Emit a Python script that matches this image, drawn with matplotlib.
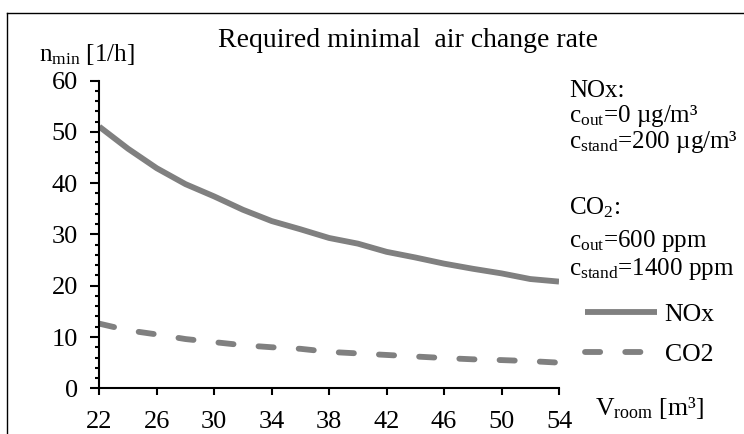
import matplotlib
matplotlib.use('Agg')
import matplotlib.pyplot as plt
from matplotlib.lines import Line2D
from matplotlib.ticker import MultipleLocator
import numpy as np

plt.rcParams['font.family'] = ['Liberation Serif', 'DejaVu Serif']
plt.rcParams['mathtext.fontset'] = 'custom'
plt.rcParams['mathtext.rm'] = 'Liberation Serif'
plt.rcParams['mathtext.it'] = 'Liberation Serif:italic'

# room volume [m3] and required air change rates [1/h]
V_room = [22, 24, 26, 28, 30, 32, 34, 36, 38, 40, 42, 44, 46, 48, 50, 52, 54]
n_NOx = [51.0, 46.7, 42.9, 39.8, 37.4, 34.8, 32.6, 31.0, 29.3, 28.2, 26.6,
         25.5, 24.3, 23.3, 22.4, 21.3, 20.8]
n_CO2 = [12.6, 11.3, 10.5, 9.6, 9.0, 8.4, 8.0, 7.7, 7.1, 6.8, 6.5,
         6.2, 5.9, 5.65, 5.5, 5.3, 5.0]

x_ticks = [22, 26, 30, 34, 38, 42, 46, 50, 54]
y_ticks = [0, 10, 20, 30, 40, 50, 60]

W, H = 744, 434
fig = plt.figure(figsize=(W/100, H/100), dpi=100)
ax = fig.add_axes([99.3/W, 1-388.3/H, (559-99.3)/W, (388.3-80.5)/H])

grey = '#808080'
ax.plot(V_room, n_NOx, color=grey, lw=4.2, solid_capstyle='butt', label='NOx')
ax.plot(V_room, n_CO2, color=grey, lw=4.2, linestyle=(0, (2.6, 4.3)),
        dash_capstyle='round', label='CO2')

ax.set_xlim(22, 54)
ax.set_ylim(0, 60)
ax.set_xticks(x_ticks)
ax.set_yticks(y_ticks)
ax.yaxis.set_minor_locator(MultipleLocator(2))
for s in ['top', 'right']:
    ax.spines[s].set_visible(False)
for s in ['left', 'bottom']:
    ax.spines[s].set_linewidth(1.5)
ax.tick_params(axis='y', which='major', length=6.5, width=1.5, pad=9, labelsize=19)
ax.tick_params(axis='y', which='minor', length=3.2, width=1.5)
ax.tick_params(axis='x', which='major', length=5, width=1.5, pad=11, labelsize=19)

def fx(px):
    return px / W

def fy(py):
    return 1 - py / H

fig.text(fx(408), fy(47), 'Required minimal  air change rate', ha='center',
         va='baseline', fontsize=20)
fig.text(fx(39), fy(61), r'n$_{\mathrm{min}}$ [1/h]', va='baseline', fontsize=18)
fig.text(fx(595), fy(415), r'V$_{\mathrm{room}}$ [m³]', va='baseline', fontsize=18.5)

side = [(97, 'NOx:'),
        (122, r'c$_{\mathrm{out}}$=0 µg/m³'),
        (148, r'c$_{\mathrm{stand}}$=200 µg/m³'),
        (214, r'CO$_2$:'),
        (247, r'c$_{\mathrm{out}}$=600 ppm'),
        (275, r'c$_{\mathrm{stand}}$=1400 ppm')]
for py, s in side:
    fig.text(fx(569), fy(py), s, va='baseline', fontsize=18)

fig.legend(loc='upper left', bbox_to_anchor=(fx(585), fy(303)), frameon=False,
           fontsize=18.5, handlelength=2.8, handletextpad=0.3, labelspacing=0.67,
           borderpad=0, borderaxespad=0)

# outer frame (top and left edges visible)
fig.add_artist(Line2D([fx(7.3), 1.0], [fy(12.5), fy(12.5)], color='black', lw=1.0))
fig.add_artist(Line2D([fx(7.3), fx(7.3)], [0.0, fy(12.5)], color='black', lw=1.0))

fig.savefig('out.png', dpi=100)
